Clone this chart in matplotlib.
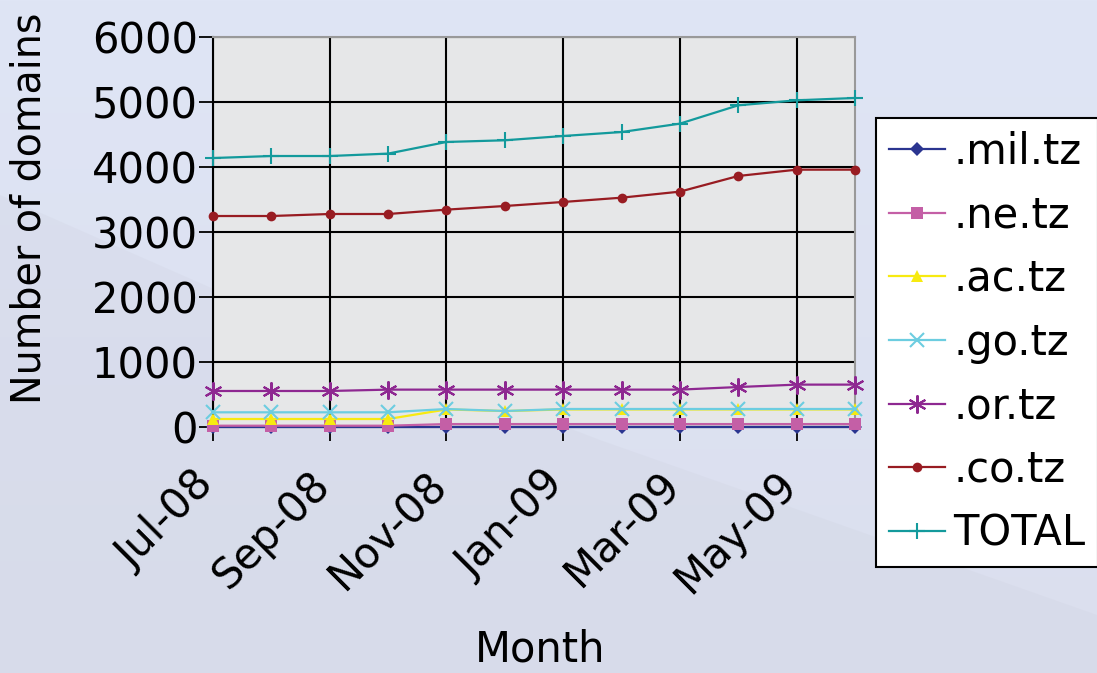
import numpy as np
import matplotlib
matplotlib.use("Agg")
import matplotlib.pyplot as plt
from matplotlib.patches import Polygon
from matplotlib.transforms import ScaledTranslation

months = ["Jul-08", "Aug-08", "Sep-08", "Oct-08", "Nov-08", "Dec-08",
          "Jan-09", "Feb-09", "Mar-09", "Apr-09", "May-09", "Jun-09"]
mil_tz = [2, 2, 2, 2, 2, 2, 2, 2, 2, 2, 2, 2]
ne_tz = [20, 20, 20, 20, 45, 45, 45, 45, 45, 45, 45, 45]
ac_tz = [123, 123, 123, 123, 270, 245, 270, 270, 270, 270, 270, 270]
go_tz = [226, 226, 226, 226, 277, 246, 277, 277, 277, 277, 277, 277]
or_tz = [554, 554, 554, 575, 575, 575, 575, 575, 575, 615, 652, 652]
co_tz = [3246, 3246, 3277, 3277, 3344, 3400, 3462, 3528, 3621, 3862, 3959, 3959]
total = [4138, 4169, 4169, 4206, 4385, 4411, 4477, 4538, 4667, 4949, 5026, 5062]

series = [
    (".mil.tz", mil_tz, "#2b3590", "D", 7),
    (".ne.tz", ne_tz, "#c45fa6", "s", 8),
    (".ac.tz", ac_tz, "#f7ea10", "^", 9),
    (".go.tz", go_tz, "#6ccde0", "x", 10),
    (".or.tz", or_tz, "#8e2891", (6, 2, 0), 13),
    (".co.tz", co_tz, "#981c22", "o", 7),
    ("TOTAL", total, "#139a9c", "+", 12),
]

W, H = 1097, 673
fig = plt.figure(figsize=(W / 100, H / 100), dpi=100)

# background
bg = fig.add_axes([0, 0, 1, 1], zorder=-10)
bg.set_xlim(0, W)
bg.set_ylim(H, 0)
bg.axis("off")
yy, xx = np.mgrid[0:H, 0:W]
top = np.array([0xdf, 0xe5, 0xf5]) / 255
bot = np.array([0xdb, 0xdf, 0xee]) / 255
t = (yy / H)[..., None]
img = top * (1 - t) + bot * t
bg.imshow(img, extent=[0, W, H, 0], aspect="auto")
bg.add_patch(Polygon([[0, 195], [250, 305], [600, 440], [1097, 615], [1097, 673], [0, 673]],
                     closed=True, facecolor="#c4c4d2", alpha=0.14, edgecolor="none"))

ax = fig.add_axes([213 / W, 1 - 427 / H, (855 - 213) / W, (427 - 37) / H])
ax.set_facecolor("#e6e7e8")
x = np.arange(len(months))
for name, vals, col, mk, ms in series:
    kw = dict(markeredgewidth=1.5) if mk in ("x", "+") or isinstance(mk, tuple) else dict(markeredgewidth=0)
    ax.plot(x, vals, color=col, lw=1.6, marker=mk, markersize=ms, markerfacecolor=col,
            markeredgecolor=col, label=name, clip_on=False, zorder=3, **kw)

ax.set_xlim(0, 11)
ax.set_ylim(0, 6000)
ax.set_yticks(np.arange(0, 6001, 1000))
ax.set_xticks(x[::2])
ax.set_xticklabels(months[::2], rotation=45, ha="right", rotation_mode="anchor")
ax.tick_params(axis="both", labelsize=30, length=10, width=1.3, color="black", direction="out")
ax.tick_params(axis="x", pad=6)
ax.tick_params(axis="y", pad=1)
shift = ScaledTranslation(-21 / 100, -14 / 100, fig.dpi_scale_trans)
for lbl in ax.get_xticklabels():
    lbl.set_transform(lbl.get_transform() + shift)
ax.grid(True, color="black", lw=1.5, zorder=1)
ax.set_axisbelow(True)
for s in ["left", "bottom"]:
    ax.spines[s].set_color("black")
    ax.spines[s].set_linewidth(1.5)
for s in ["right", "top"]:
    ax.spines[s].set_color("#999999")
    ax.spines[s].set_linewidth(1.5)

fig.text(30 / W, 1 - 208 / H, "Number of domains", rotation=90, fontsize=28.5,
         ha="center", va="center")
fig.text(540 / W, 1 - 650 / H, "Month", fontsize=30, ha="center", va="center")

leg = fig.legend(loc="upper left", bbox_to_anchor=(876 / W, 1 - 118 / H), fontsize=30,
                 frameon=True, fancybox=False, edgecolor="black", framealpha=1,
                 handlelength=1.35, handletextpad=0.2, labelspacing=0.52,
                 borderpad=0.3, borderaxespad=0)
leg.get_frame().set_linewidth(1.5)

fig.savefig("out.png", dpi=100)
